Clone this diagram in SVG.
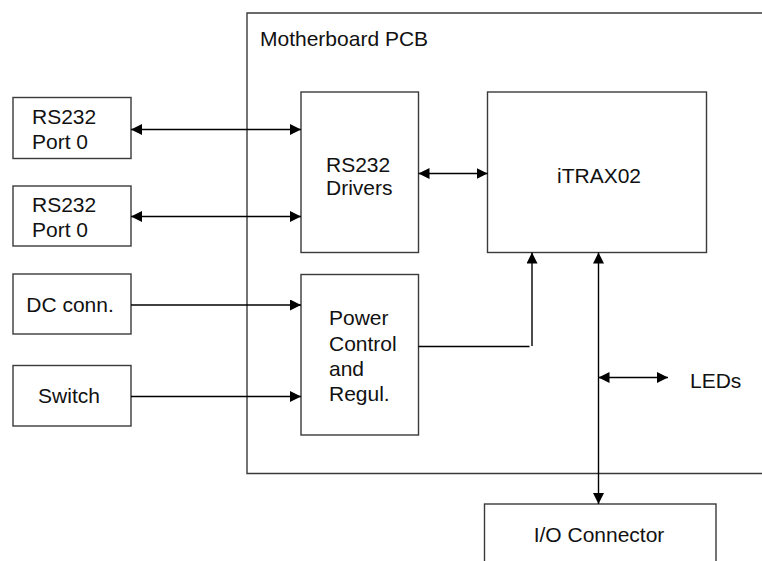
<svg xmlns="http://www.w3.org/2000/svg" width="762" height="561" viewBox="0 0 762 561">
<style>
.box{fill:#fff;stroke:#3a3a3a;stroke-width:1.4}
.frame{fill:none;stroke:#3a3a3a;stroke-width:1.4}
.t{font-family:"Liberation Sans",Arial,sans-serif;font-size:21px;fill:#111}
.c{text-anchor:middle}
.w{fill:none;stroke:#000;stroke-width:1.4}
.a2{marker-start:url(#ah);marker-end:url(#ah)}
.a1{marker-end:url(#ah)}
</style>
<defs>
<marker id="ah" markerUnits="userSpaceOnUse" markerWidth="11" markerHeight="11" refX="11" refY="5.5" orient="auto-start-reverse">
<path d="M0,0 L11,5.5 L0,11 z" fill="#000"/>
</marker>
</defs>
<g id="motherboard">
<path class="frame" d="M762,13 H247 V473.5 H762"/>
<text class="t" x="260" y="45.5">Motherboard PCB</text>
</g>
<g id="port0a">
<rect class="box" x="13" y="97.5" width="118" height="61"/>
<text class="t" x="32" y="123.5">RS232</text>
<text class="t" x="32" y="148.5">Port 0</text>
</g>
<g id="port0b">
<rect class="box" x="13" y="186" width="118" height="60"/>
<text class="t" x="32" y="212">RS232</text>
<text class="t" x="32" y="236.5">Port 0</text>
</g>
<g id="dcconn">
<rect class="box" x="13" y="274" width="118" height="60"/>
<text class="t c" x="70" y="312">DC conn.</text>
</g>
<g id="switch">
<rect class="box" x="13" y="365.5" width="118" height="60.5"/>
<text class="t c" x="69" y="402.5">Switch</text>
</g>
<g id="drivers">
<rect class="box" x="301" y="92" width="117.5" height="160.5"/>
<text class="t" x="326" y="171.5">RS232</text>
<text class="t" x="326" y="195">Drivers</text>
</g>
<g id="power">
<rect class="box" x="301" y="274.5" width="117.5" height="160.5"/>
<text class="t" x="329" y="325">Power</text>
<text class="t" x="329" y="350.5">Control</text>
<text class="t" x="329" y="376">and</text>
<text class="t" x="329" y="400.5">Regul.</text>
</g>
<g id="itrax">
<rect class="box" x="487.5" y="92" width="219" height="160.5"/>
<text class="t c" x="599" y="182.5">iTRAX02</text>
</g>
<g id="leds">
<text class="t" x="690" y="387.5">LEDs</text>
</g>
<g id="io">
<rect class="box" x="484.5" y="504" width="231.5" height="80"/>
<text class="t c" x="599" y="541.5">I/O Connector</text>
</g>
<g id="connectors">
<line class="w a2" x1="131" y1="129.5" x2="301" y2="129.5"/>
<line class="w a2" x1="131" y1="216.5" x2="301" y2="216.5"/>
<line class="w a1" x1="131" y1="305" x2="301" y2="305"/>
<line class="w a1" x1="131" y1="396.5" x2="301" y2="396.5"/>
<line class="w a2" x1="418.5" y1="173.5" x2="487.5" y2="173.5"/>
<line class="w" x1="418.5" y1="346.5" x2="529.5" y2="346.5" stroke="#444"/>
<line class="w a1" x1="532" y1="346" x2="532" y2="252.5"/>
<line class="w a2" x1="598.5" y1="252.5" x2="598.5" y2="504"/>
<line class="w a2" x1="598.5" y1="377.5" x2="668" y2="377.5"/>
</g>
</svg>
